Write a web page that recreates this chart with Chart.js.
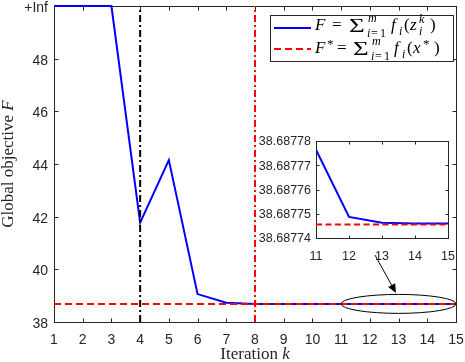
<!DOCTYPE html>
<html>
<head>
<meta charset="utf-8">
<script src="https://cdn.jsdelivr.net/npm/chart.js@4.4.0/dist/chart.umd.min.js"></script>
<style>
html,body{margin:0;padding:0;background:#fff;}
#wrap{position:relative;width:465px;height:362px;}
#mainChart{position:absolute;left:0;top:0;}
#insetChart{position:absolute;left:250px;top:130px;}
</style>
</head>
<body>
<div id="wrap">
<canvas id="mainChart" width="465" height="362"></canvas>
<canvas id="insetChart" width="210" height="135"></canvas>
</div>
<script>
// iterations k
var iterations = [1,2,3,4,5,6,7,8,9,10,11,12,13,14,15];
// F values (+Inf is drawn at the top of the axis, 50)
var objValues = [50,50,50,41.77,44.15,39.06,38.73,38.6879,38.68785,38.6878,38.6877764,38.6877487,38.6877463,38.687746,38.687746];
var optimalValue = 38.6877456;
var yTicks = [38,40,42,44,46,48,50];
var yTickLabels = ['38','40','42','44','46','48','+Inf'];
var blackLineIter = 4;
var redLineIter = 8;

// zoomed inset
var insetIters = [11,12,13,14,15];
var insetValues = [38.6877764,38.6877487,38.6877463,38.687746,38.687746];
var insetTicks = [38.68774,38.68775,38.68776,38.68777,38.68778];
var insetTickLabels = ['38.68774','38.68775','38.68776','38.68777','38.68778'];

// ellipse + arrow annotation (data units)
var ellipseCenter = [13, optimalValue];
var ellipseRadius = [2, 0.36];
var arrowFrom = [12.18, 40.54];
var arrowTo = [12.91, 39.10];

var axisColor = '#262626';

function pts(xs, ys){
	return xs.map(function(x, i){ return {x: x, y: ys[i]}; });
}
function it(s){ return 'italic ' + s + 'px "Liberation Serif"'; }
function rm(s){ return s + 'px "Liberation Serif"'; }

// legend math: [text, font, x, dy]; 'S' font = wide sigma
function mathText(ctx, y, parts){
	ctx.textAlign = 'left';
	ctx.textBaseline = 'alphabetic';
	parts.forEach(function(p){
		if(p[1] == 'S'){
			ctx.save();
			ctx.translate(p[2], y + p[3]);
			ctx.scale(1.5, 1);
			ctx.font = rm(18);
			ctx.fillText(p[0], 0, 0);
			ctx.restore();
		}else{
			ctx.font = p[1];
			ctx.fillText(p[0], p[2], y + p[3]);
		}
	});
}

// box with inward ticks
function boxPlugin(tickLen, fillWhite){
	return {
		id: 'box',
		beforeDatasetsDraw: function(chart){
			var ctx = chart.ctx, a = chart.chartArea;
			var xs = chart.scales.x, ys = chart.scales.y;
			var l = Math.round(a.left) + 0.5, r = Math.round(a.right) + 0.5;
			var t = Math.round(a.top) + 0.5, b = Math.round(a.bottom) + 0.5;
			ctx.save();
			if(fillWhite){
				ctx.fillStyle = '#fff';
				ctx.fillRect(l, t, r - l, b - t);
			}
			ctx.strokeStyle = axisColor;
			ctx.lineWidth = 1;
			ctx.strokeRect(l, t, r - l, b - t);
			ctx.beginPath();
			xs.ticks.forEach(function(tk){
				var px = Math.round(xs.getPixelForValue(tk.value)) + 0.5;
				ctx.moveTo(px, b); ctx.lineTo(px, b - tickLen);
				ctx.moveTo(px, t); ctx.lineTo(px, t + tickLen);
			});
			ys.ticks.forEach(function(tk){
				var py = Math.round(ys.getPixelForValue(tk.value)) + 0.5;
				ctx.moveTo(l, py); ctx.lineTo(l + tickLen, py);
				ctx.moveTo(r, py); ctx.lineTo(r - tickLen, py);
			});
			ctx.stroke();
			ctx.restore();
		}
	};
}

var annotPlugin = {
	id: 'annot',
	afterDraw: function(chart){
		var ctx = chart.ctx, a = chart.chartArea;
		var xs = chart.scales.x, ys = chart.scales.y;
		ctx.save();
		// ellipse
		var cx = xs.getPixelForValue(ellipseCenter[0]);
		var cy = ys.getPixelForValue(ellipseCenter[1]);
		var rx = xs.getPixelForValue(ellipseCenter[0] + ellipseRadius[0]) - cx;
		var ry = cy - ys.getPixelForValue(ellipseCenter[1] + ellipseRadius[1]);
		ctx.strokeStyle = '#000';
		ctx.lineWidth = 1;
		ctx.beginPath();
		ctx.ellipse(cx, cy, rx, ry, 0, 0, Math.PI * 2);
		ctx.stroke();
		// arrow
		var x1 = xs.getPixelForValue(arrowFrom[0]), y1 = ys.getPixelForValue(arrowFrom[1]);
		var x2 = xs.getPixelForValue(arrowTo[0]), y2 = ys.getPixelForValue(arrowTo[1]);
		var ang = Math.atan2(y2 - y1, x2 - x1);
		var hl = 9, hw = 4;
		ctx.beginPath();
		ctx.moveTo(x1, y1);
		ctx.lineTo(x2 - hl * Math.cos(ang), y2 - hl * Math.sin(ang));
		ctx.stroke();
		ctx.fillStyle = '#000';
		ctx.beginPath();
		ctx.moveTo(x2, y2);
		ctx.lineTo(x2 - hl * Math.cos(ang) + hw * Math.sin(ang), y2 - hl * Math.sin(ang) - hw * Math.cos(ang));
		ctx.lineTo(x2 - hl * Math.cos(ang) - hw * Math.sin(ang), y2 - hl * Math.sin(ang) + hw * Math.cos(ang));
		ctx.closePath();
		ctx.fill();

		// axis titles
		ctx.fillStyle = axisColor;
		ctx.textBaseline = 'alphabetic';
		ctx.font = rm(17);
		var w1 = ctx.measureText('Iteration ').width;
		ctx.font = it(17);
		var w2 = ctx.measureText('k').width;
		var tx = (a.left + a.right) / 2 - (w1 + w2) / 2;
		ctx.textAlign = 'left';
		ctx.font = rm(17); ctx.fillText('Iteration ', tx, 359);
		ctx.font = it(17); ctx.fillText('k', tx + w1, 359);

		ctx.save();
		ctx.translate(13, (a.top + a.bottom) / 2);
		ctx.rotate(-Math.PI / 2);
		ctx.font = rm(17);
		w1 = ctx.measureText('Global objective ').width;
		ctx.font = it(17);
		w2 = ctx.measureText('F').width;
		ctx.font = rm(17); ctx.fillText('Global objective ', -(w1 + w2) / 2, 0);
		ctx.font = it(17); ctx.fillText('F', -(w1 + w2) / 2 + w1, 0);
		ctx.restore();

		// legend
		ctx.fillStyle = '#fff';
		ctx.fillRect(270.5, 15.5, 183, 46);
		ctx.strokeStyle = axisColor;
		ctx.lineWidth = 1;
		ctx.strokeRect(270.5, 15.5, 183, 46);
		ctx.lineWidth = 2;
		ctx.strokeStyle = '#0000ff';
		ctx.beginPath(); ctx.moveTo(274, 28); ctx.lineTo(311, 28); ctx.stroke();
		ctx.strokeStyle = '#ff0000';
		ctx.setLineDash([7, 4]);
		ctx.beginPath(); ctx.moveTo(274, 49); ctx.lineTo(311, 49); ctx.stroke();
		ctx.setLineDash([]);
		ctx.fillStyle = '#000';
		mathText(ctx, 30, [
			['F', it(17), 315, 0], ['=', rm(17), 332, 0], ['\u03A3', 'S', 349, 2],
			['m', it(12), 368, -8], ['i', it(12), 367, 7], ['=', rm(12), 371, 7], ['1', rm(12), 380, 7],
			['f', it(17), 391, 0], ['i', it(12), 399, 5], ['(', rm(17), 404, 0], ['z', it(17), 410, 0],
			['k', it(12), 419, -7], ['i', it(12), 419, 5], [')', rm(17), 430, 0]
		]);
		mathText(ctx, 52.5, [
			['F', it(17), 315, 0], ['*', rm(13), 327, -5], ['=', rm(17), 337, 0], ['\u03A3', 'S', 353, 2],
			['m', it(12), 372, -8], ['i', it(12), 371, 7], ['=', rm(12), 375, 7], ['1', rm(12), 384, 7],
			['f', it(17), 394, 0], ['i', it(12), 402, 5], ['(', rm(17), 407, 0], ['x', it(17), 413, 0],
			['*', rm(13), 423, -5], [')', rm(17), 434, 0]
		]);
		ctx.restore();
	}
};

new Chart(document.getElementById('mainChart'), {
	type: 'line',
	data: {
		datasets: [{
			data: pts([iterations[0], iterations[iterations.length - 1]], [optimalValue, optimalValue]),
			borderColor: '#ff0000', borderWidth: 2, borderDash: [7, 4], order: 0
		}, {
			data: pts([redLineIter, redLineIter], [yTicks[0], yTicks[yTicks.length - 1]]),
			borderColor: '#ff0000', borderWidth: 2, borderDash: [7, 3, 2, 3], order: 1
		}, {
			data: pts([blackLineIter, blackLineIter], [yTicks[0], yTicks[yTicks.length - 1]]),
			borderColor: '#000000', borderWidth: 2, borderDash: [7, 3, 2, 3], order: 2
		}, {
			data: pts(iterations, objValues),
			borderColor: '#0000ff', borderWidth: 2, order: 3, clip: false
		}]
	},
	options: {
		responsive: false,
		animation: false,
		devicePixelRatio: 1,
		elements: {point: {radius: 0}, line: {tension: 0, fill: false}},
		layout: {padding: {left: 0, right: 9, top: 6, bottom: 0}},
		plugins: {legend: {display: false}, tooltip: {enabled: false}},
		scales: {
			x: {
				type: 'linear', min: 1, max: 15,
				grid: {display: false, drawTicks: false},
				border: {display: false},
				afterBuildTicks: function(s){ s.ticks = iterations.map(function(v){ return {value: v}; }); },
				afterFit: function(s){ s.height = 40; s.paddingLeft = 0; s.paddingRight = 0; },
				ticks: {autoSkip: false, maxRotation: 0, padding: 10, color: axisColor,
					font: {family: 'Liberation Sans', size: 14}}
			},
			y: {
				type: 'linear', min: 38, max: 50,
				grid: {display: false, drawTicks: false},
				border: {display: false},
				afterBuildTicks: function(s){ s.ticks = yTicks.map(function(v){ return {value: v}; }); },
				afterFit: function(s){ s.width = 54; s.paddingTop = 0; s.paddingBottom = 0; },
				ticks: {padding: 6, labelOffset: 2, color: axisColor,
					font: {family: 'Liberation Sans', size: 14},
					callback: function(v){ return yTickLabels[yTicks.indexOf(v)]; }}
			}
		}
	},
	plugins: [boxPlugin(4, false), annotPlugin]
});

new Chart(document.getElementById('insetChart'), {
	type: 'line',
	data: {
		datasets: [{
			data: pts([insetIters[0], insetIters[insetIters.length - 1]], [optimalValue, optimalValue]),
			borderColor: '#ff0000', borderWidth: 2, borderDash: [6, 3.5], order: 0
		}, {
			data: pts(insetIters, insetValues),
			borderColor: '#0000ff', borderWidth: 2, order: 1
		}]
	},
	options: {
		responsive: false,
		animation: false,
		devicePixelRatio: 1,
		elements: {point: {radius: 0}, line: {tension: 0, fill: false}},
		layout: {padding: {left: 0, right: 12, top: 11, bottom: 0}},
		plugins: {legend: {display: false}, tooltip: {enabled: false}},
		scales: {
			x: {
				type: 'linear', min: 11, max: 15,
				grid: {display: false, drawTicks: false},
				border: {display: false},
				afterBuildTicks: function(s){ s.ticks = insetIters.map(function(v){ return {value: v}; }); },
				afterFit: function(s){ s.height = 27; s.paddingLeft = 0; s.paddingRight = 0; },
				ticks: {autoSkip: false, maxRotation: 0, padding: 11, color: axisColor,
					font: {family: 'Liberation Sans', size: 12.5}}
			},
			y: {
				type: 'linear', min: insetTicks[0], max: insetTicks[insetTicks.length - 1],
				grid: {display: false, drawTicks: false},
				border: {display: false},
				afterBuildTicks: function(s){ s.ticks = insetTicks.map(function(v){ return {value: v}; }); },
				afterFit: function(s){ s.width = 66; s.paddingTop = 0; s.paddingBottom = 0; },
				ticks: {padding: 5, labelOffset: 1, color: axisColor,
					font: {family: 'Liberation Sans', size: 12.5},
					callback: function(v, i){ return insetTickLabels[i]; }}
			}
		}
	},
	plugins: [boxPlugin(3, true)]
});
</script>
</body>
</html>
